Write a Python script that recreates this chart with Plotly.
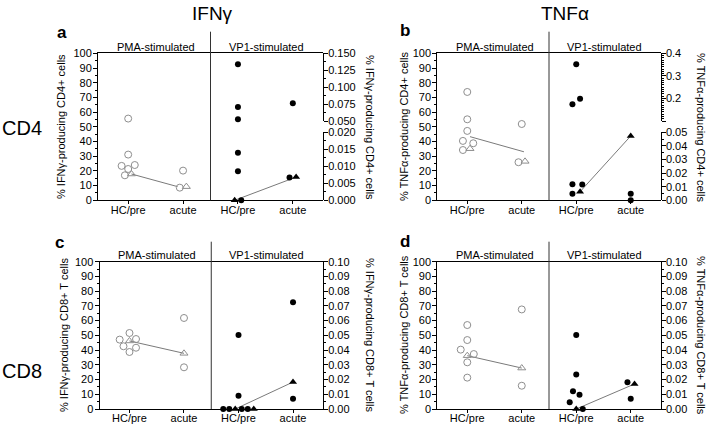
import plotly.graph_objects as go

# ---------------- data ----------------
x_labels = ["HC/pre", "acute", "HC/pre", "acute"]
x_slots = [0, 1, 2, 3]          # PMA HC/pre, PMA acute, VP1 HC/pre, VP1 acute

# a: IFNγ-producing CD4+ cells
a_pma_hc = [55.6, 31.1, 23.4, 21.3, 24.0, 17.0]
a_pma_hc_dx = [0.0, 0.0, -0.12, 0.0, 0.12, -0.06]
a_pma_ac = [20.2, 8.6]
a_pma_ac_dx = [0.0, -0.06]
a_pma_hc_tri = [17.9]
a_pma_hc_tri_dx = [0.06]
a_pma_ac_tri = [9.3]
a_pma_ac_tri_dx = [0.06]
a_pma_line = [17.9, 9.3]
a_pma_line_dx = [0.06, -0.1]
a_vp1_hc = [0.134, 0.0707, 0.0526, 0.0139, 0.0085, 0.0]
a_vp1_hc_dx = [0.0, 0.0, 0.0, 0.0, 0.0, 0.06]
a_vp1_ac = [0.0763, 0.0067]
a_vp1_ac_dx = [0.0, -0.06]
a_vp1_hc_tri = [0.0]
a_vp1_hc_tri_dx = [-0.06]
a_vp1_ac_tri = [0.0068]
a_vp1_ac_tri_dx = [0.06]
a_vp1_line = [0.0, 0.0068]
a_vp1_line_dx = [-0.06, 0.06]

# b: TNFα-producing CD4+ cells
b_pma_hc = [73.7, 55.1, 47.2, 40.4, 38.8, 34.2]
b_pma_hc_dx = [0.0, 0.0, 0.0, -0.08, 0.11, -0.08]
b_pma_ac = [51.9, 25.9]
b_pma_ac_dx = [0.0, -0.06]
b_pma_hc_tri = [35.1]
b_pma_hc_tri_dx = [0.05]
b_pma_ac_tri = [26.5]
b_pma_ac_tri_dx = [0.06]
b_pma_line = [43.3, 33.0]
b_pma_line_dx = [0.05, 0.04]
b_vp1_hc = [0.351, 0.174, 0.199, 0.0118, 0.0116, 0.0049]
b_vp1_hc_dx = [0.0, -0.07, 0.07, -0.07, 0.11, -0.07]
b_vp1_ac = [0.0049, 0.0]
b_vp1_ac_dx = [0.0, 0.0]
b_vp1_hc_tri = [0.0063]
b_vp1_hc_tri_dx = [0.07]
b_vp1_ac_tri = [0.0473]
b_vp1_ac_tri_dx = [0.0]
b_vp1_line = [0.0063, 0.0473]
b_vp1_line_dx = [0.07, 0.0]

# c: IFNγ-producing CD8+ T cells
c_pma_hc = [47.1, 42.6, 51.6, 38.7, 47.5, 41.6]
c_pma_hc_dx = [-0.18, -0.11, 0.0, 0.0, 0.12, 0.12]
c_pma_ac = [61.8, 28.3]
c_pma_ac_dx = [0.0, 0.0]
c_pma_hc_tri = [46.2]
c_pma_hc_tri_dx = [0.0]
c_pma_ac_tri = [37.8]
c_pma_ac_tri_dx = [0.0]
c_pma_line = [46.2, 37.8]
c_pma_line_dx = [0.0, 0.0]
c_vp1_hc = [0.0502, 0.009, 0.0, 0.0, 0.0, 0.0]
c_vp1_hc_dx = [0.0, 0.0, -0.28, -0.17, 0.06, 0.17]
c_vp1_ac = [0.0724, 0.007]
c_vp1_ac_dx = [0.0, 0.0]
c_vp1_hc_tri = [0.0, 0.0]
c_vp1_hc_tri_dx = [-0.06, 0.28]
c_vp1_ac_tri = [0.0183]
c_vp1_ac_tri_dx = [0.0]
c_vp1_line = [0.0, 0.0183]
c_vp1_line_dx = [-0.06, 0.0]

# d: TNFα-producing CD8+ T cells
d_pma_hc = [57.0, 46.8, 40.3, 37.3, 31.7, 21.3]
d_pma_hc_dx = [0.0, 0.0, -0.12, 0.12, 0.0, 0.0]
d_pma_ac = [67.6, 15.8]
d_pma_ac_dx = [0.0, 0.0]
d_pma_hc_tri = [36.2]
d_pma_hc_tri_dx = [0.0]
d_pma_ac_tri = [27.8]
d_pma_ac_tri_dx = [0.0]
d_pma_line = [36.2, 27.8]
d_pma_line_dx = [0.0, 0.0]
d_vp1_hc = [0.0502, 0.0235, 0.012, 0.0097, 0.0045, 0.0]
d_vp1_hc_dx = [0.0, 0.0, -0.06, 0.06, -0.12, 0.12]
d_vp1_ac = [0.0181, 0.007]
d_vp1_ac_dx = [-0.06, 0.0]
d_vp1_hc_tri = [0.0]
d_vp1_hc_tri_dx = [0.0]
d_vp1_ac_tri = [0.017]
d_vp1_ac_tri_dx = [0.07]
d_vp1_line = [0.0, 0.017]
d_vp1_line_dx = [0.0, 0.07]

# ---------------- styling / layout helpers ----------------
W, H = 709, 428
FONT = "Arial, 'Liberation Sans', Helvetica, sans-serif"
GRAY = "#8e8e8e"
LINEGRAY = "#7a7a7a"


def fx(p):
    return p / W


def fy(p):
    return 1 - p / H


fig = go.Figure()

STYLES = {
    "po": dict(symbol="circle-open", size=7, color=GRAY, line=dict(width=1, color=GRAY)),
    "pt": dict(symbol="triangle-up-open", size=7, color=GRAY, line=dict(width=1, color=GRAY)),
    "vo": dict(symbol="circle", size=6, color="black", line=dict(width=0)),
    "vt": dict(symbol="triangle-up", size=7, color="black", line=dict(width=0)),
}


def pick_axis(v, segments):
    for (lo, hi), ax in segments:
        if lo - 1e-9 <= v <= hi + 1e-9:
            return ax
    return segments[0][1]


def add_points(xa, segments, slot, vals, dxs, style):
    groups = {}
    for v, d in zip(vals, dxs):
        ax = pick_axis(v, segments)
        groups.setdefault(ax, ([], []))
        groups[ax][0].append(x_slots[slot] + d)
        groups[ax][1].append(v)
    for ax, (xs, ys) in groups.items():
        fig.add_trace(go.Scatter(x=xs, y=ys, xaxis=xa, yaxis=ax, mode="markers",
                                 marker=STYLES[style], cliponaxis=False,
                                 showlegend=False, hoverinfo="skip"))


def add_line(xa, segments, slot0, vals, dxs):
    ax = pick_axis(vals[0], segments)
    fig.add_trace(go.Scatter(x=[x_slots[slot0] + dxs[0], x_slots[slot0 + 1] + dxs[1]], y=vals,
                             xaxis=xa, yaxis=ax, mode="lines",
                             line=dict(color=LINEGRAY, width=1), cliponaxis=False,
                             showlegend=False, hoverinfo="skip"))


def add_half(xa, segments, base, hc, hc_dx, ac, ac_dx, hct, hct_dx, act, act_dx, ln, ln_dx, kind):
    add_line(xa, segments, base, ln, ln_dx)
    add_points(xa, segments, base, hc, hc_dx, kind + "o")
    add_points(xa, segments, base + 1, ac, ac_dx, kind + "o")
    add_points(xa, segments, base, hct, hct_dx, kind + "t")
    add_points(xa, segments, base + 1, act, act_dx, kind + "t")


tickfont = dict(family=FONT, size=11, color="black")
axis_common = dict(showgrid=False, zeroline=False, showline=True, linecolor="black",
                   linewidth=1, ticks="outside", ticklen=4, tickcolor="black", tickwidth=1,
                   tickfont=tickfont, automargin=False)

layout_axes = {}


def x_axis(name, left, right, anchor):
    layout_axes[name] = dict(axis_common, domain=[fx(left), fx(right)], range=[-0.55, 3.55],
                             anchor=anchor, tickmode="array", tickvals=x_slots, ticklen=3,
                             ticktext=x_labels, mirror=True, ticklabelstandoff=-4)


def left_y(name, top, bottom, anchor):
    layout_axes[name] = dict(axis_common, domain=[fy(bottom), fy(top)], range=[0, 100],
                             anchor=anchor, side="left", tickmode="linear", tick0=0, dtick=10,
                             ticklabelstandoff=-1,
                             minor=dict(ticks="outside", ticklen=2, tick0=0, dtick=5,
                                        tickcolor="black"))


def right_y(name, anchor, rng, tickvals, fmt, minor_dtick, top=None, bottom=None,
            overlaying=None, ticktext=None):
    cfg = dict(axis_common, range=rng, anchor=anchor, side="right", tickmode="array",
               tickvals=tickvals, ticklabelstandoff=-2,
               ticktext=ticktext if ticktext else [format(t, fmt) for t in tickvals],
               minor=dict(ticks="outside", ticklen=2, tick0=rng[0], dtick=minor_dtick,
                          tickcolor="black"))
    if overlaying:
        cfg["overlaying"] = overlaying
    else:
        cfg["domain"] = [fy(bottom), fy(top)]
    layout_axes[name] = cfg


# geometry of the four panels (pixels)
TOP1, BOT1, DIVTOP1 = 53.3, 200.3, 31.7
TOP2, BOT2, DIVTOP2 = 261.7, 409.0, 241.7

# panel a
x_axis("xaxis", 98.0, 323.0, "y")
left_y("yaxis", TOP1, BOT1, "x")
right_y("yaxis2", "x", [0.05, 0.15], [0.05, 0.075, 0.1, 0.125, 0.15], ".3f", 0.0125,
        top=TOP1, bottom=121.0)
right_y("yaxis3", "x", [0, 0.02], [0, 0.005, 0.01, 0.015, 0.02], ".3f", 0.0025,
        top=132.0, bottom=BOT1)
# panel b
x_axis("xaxis2", 437.3, 660.7, "y4")
left_y("yaxis4", TOP1, BOT1, "x2")
right_y("yaxis5", "x2", [0.1, 0.4], [0.1, 0.2, 0.3, 0.4], ".1f", 0.01,
        top=TOP1, bottom=121.0, ticktext=["", "0.2", "0.3", "0.4"])
right_y("yaxis6", "x2", [0, 0.05], [0, 0.01, 0.02, 0.03, 0.04, 0.05], ".2f", 0.005,
        top=132.3, bottom=BOT1)
# panel c
x_axis("xaxis3", 99.5, 323.0, "y7")
left_y("yaxis7", TOP2, BOT2, "x3")
right_y("yaxis8", "x3", [0, 0.1], [i / 100 for i in range(11)], ".2f", 0.005, overlaying="y7")
# panel d
x_axis("xaxis4", 437.3, 660.7, "y9")
left_y("yaxis9", TOP2, BOT2, "x4")
right_y("yaxis10", "x4", [0, 0.1], [i / 100 for i in range(11)], ".2f", 0.005, overlaying="y9")

# data traces
A_PMA = [((0, 100), "y")]
A_VP1 = [((0, 0.02), "y3"), ((0.05, 0.15), "y2")]
B_PMA = [((0, 100), "y4")]
B_VP1 = [((0, 0.05), "y6"), ((0.1, 0.4), "y5")]
C_PMA = [((0, 100), "y7")]
C_VP1 = [((0, 0.1), "y8")]
D_PMA = [((0, 100), "y9")]
D_VP1 = [((0, 0.1), "y10")]

add_half("x", A_PMA, 0, a_pma_hc, a_pma_hc_dx, a_pma_ac, a_pma_ac_dx, a_pma_hc_tri, a_pma_hc_tri_dx,
         a_pma_ac_tri, a_pma_ac_tri_dx, a_pma_line, a_pma_line_dx, "p")
add_half("x", A_VP1, 2, a_vp1_hc, a_vp1_hc_dx, a_vp1_ac, a_vp1_ac_dx, a_vp1_hc_tri, a_vp1_hc_tri_dx,
         a_vp1_ac_tri, a_vp1_ac_tri_dx, a_vp1_line, a_vp1_line_dx, "v")
add_half("x2", B_PMA, 0, b_pma_hc, b_pma_hc_dx, b_pma_ac, b_pma_ac_dx, b_pma_hc_tri, b_pma_hc_tri_dx,
         b_pma_ac_tri, b_pma_ac_tri_dx, b_pma_line, b_pma_line_dx, "p")
add_half("x2", B_VP1, 2, b_vp1_hc, b_vp1_hc_dx, b_vp1_ac, b_vp1_ac_dx, b_vp1_hc_tri, b_vp1_hc_tri_dx,
         b_vp1_ac_tri, b_vp1_ac_tri_dx, b_vp1_line, b_vp1_line_dx, "v")
add_half("x3", C_PMA, 0, c_pma_hc, c_pma_hc_dx, c_pma_ac, c_pma_ac_dx, c_pma_hc_tri, c_pma_hc_tri_dx,
         c_pma_ac_tri, c_pma_ac_tri_dx, c_pma_line, c_pma_line_dx, "p")
add_half("x3", C_VP1, 2, c_vp1_hc, c_vp1_hc_dx, c_vp1_ac, c_vp1_ac_dx, c_vp1_hc_tri, c_vp1_hc_tri_dx,
         c_vp1_ac_tri, c_vp1_ac_tri_dx, c_vp1_line, c_vp1_line_dx, "v")
add_half("x4", D_PMA, 0, d_pma_hc, d_pma_hc_dx, d_pma_ac, d_pma_ac_dx, d_pma_hc_tri, d_pma_hc_tri_dx,
         d_pma_ac_tri, d_pma_ac_tri_dx, d_pma_line, d_pma_line_dx, "p")
add_half("x4", D_VP1, 2, d_vp1_hc, d_vp1_hc_dx, d_vp1_ac, d_vp1_ac_dx, d_vp1_hc_tri, d_vp1_hc_tri_dx,
         d_vp1_ac_tri, d_vp1_ac_tri_dx, d_vp1_line, d_vp1_line_dx, "v")

# dividers between PMA and VP1 halves
shapes = []
for xa, bot, dtop in [("x", BOT1, DIVTOP1), ("x2", BOT1, DIVTOP1),
                      ("x3", BOT2, DIVTOP2), ("x4", BOT2, DIVTOP2)]:
    shapes.append(dict(type="line", xref=xa, yref="paper", x0=1.5, x1=1.5,
                       y0=fy(bot), y1=fy(dtop), line=dict(color="#333333", width=1)))

# text
annotations = []


def txt(text, x, y, size, xref="paper", yref="paper", angle=0, bold=False):
    t = "<b>%s</b>" % text if bold else text
    annotations.append(dict(text=t, x=x, y=y, xref=xref, yref=yref, showarrow=False,
                            xanchor="center", yanchor="middle", textangle=angle,
                            font=dict(family=FONT, size=size, color="black")))


txt("IFNγ", fx(213), fy(13), 19)
txt("TNFα", fx(565), fy(13), 19)
txt("CD4", fx(22), fy(128), 20)
txt("CD8", fx(22), fy(371), 20)
txt("a", fx(62), fy(32), 17, bold=True)
txt("b", fx(405), fy(31), 17, bold=True)
txt("c", fx(59), fy(242), 17, bold=True)
txt("d", fx(405), fy(241), 17, bold=True)

for xa, ytop in [("x", TOP1), ("x2", TOP1), ("x3", TOP2), ("x4", TOP2)]:
    txt("PMA-stimulated", 0.5, fy(ytop - 6.5), 11, xref=xa)
    txt("VP1-stimulated", 2.52, fy(ytop - 6.5), 11, xref=xa)

txt("% IFNγ-producing CD4+ cells", fx(61), fy(127), 11, angle=-90)
txt("% IFNγ-producing CD4+ cells", fx(370), fy(127), 11, angle=90)
txt("% TNFα-producing CD4+ cells", fx(404), fy(127), 11, angle=-90)
txt("% TNFα-producing CD4+ cells", fx(701), fy(127), 11, angle=90)
txt("% IFNγ-producing CD8+ T cells", fx(64), fy(335), 11, angle=-90)
txt("% IFNγ-producing CD8+ T cells", fx(370), fy(335), 11, angle=90)
txt("% TNFα-producing CD8+ T cells", fx(404), fy(335), 11, angle=-90)
txt("% TNFα-producing CD8+ T cells", fx(701), fy(335), 11, angle=90)

fig.update_layout(
    width=W, height=H, autosize=False,
    margin=dict(l=0, r=0, t=0, b=0),
    paper_bgcolor="white", plot_bgcolor="rgba(0,0,0,0)",
    showlegend=False,
    shapes=shapes, annotations=annotations,
    font=dict(family=FONT, color="black"),
    **layout_axes,
)

fig.write_html("out.html", config={"displayModeBar": False},
               post_script="document.body.style.margin='0px';document.body.style.overflow='hidden';")
